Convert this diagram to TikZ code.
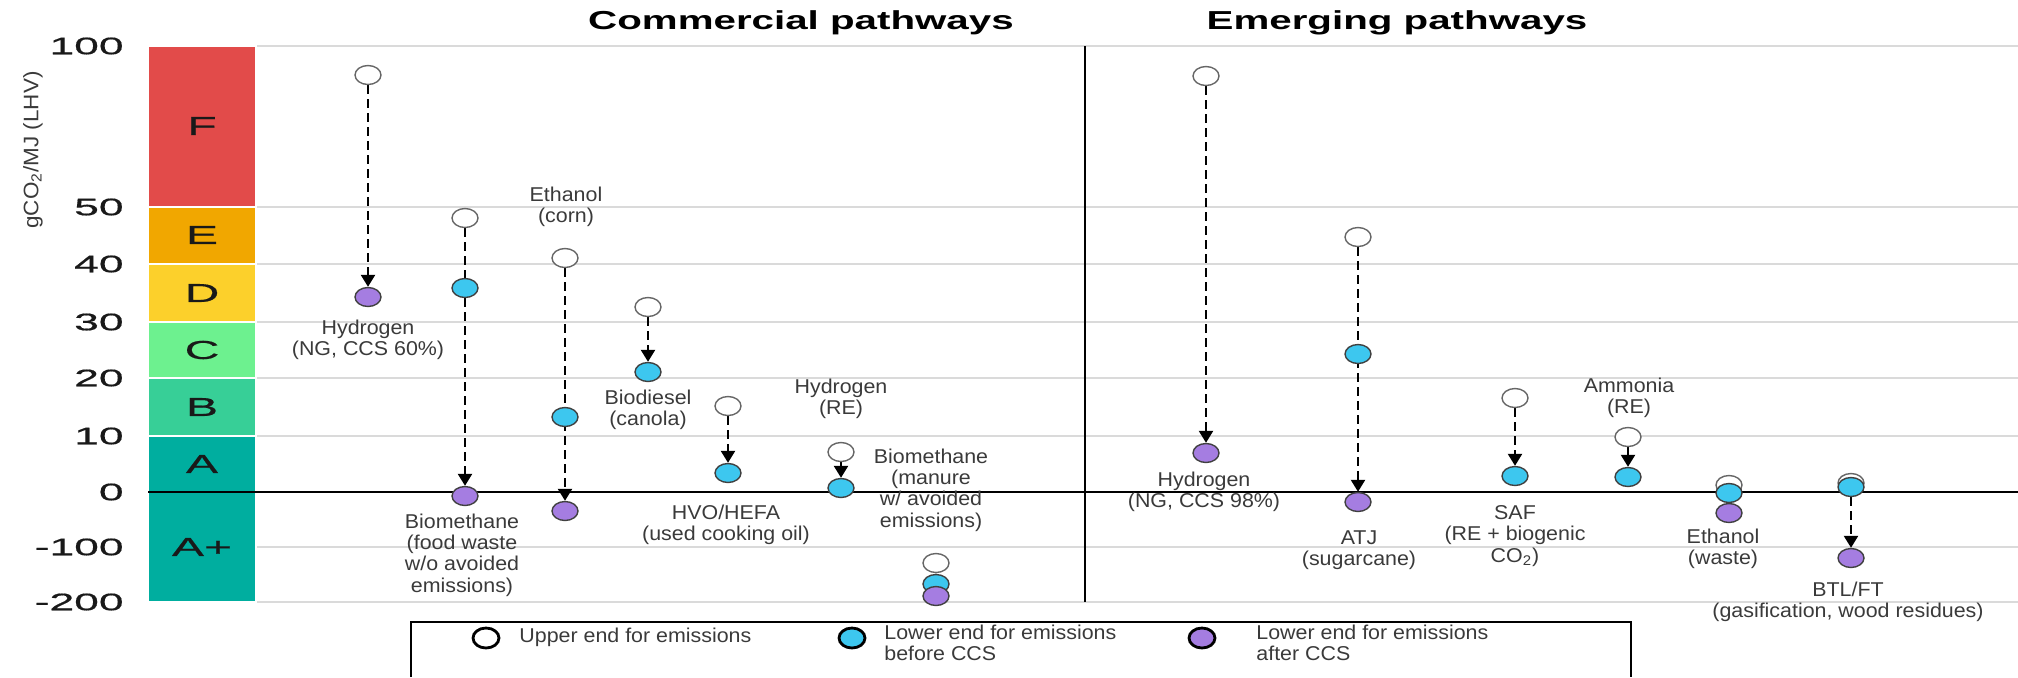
\documentclass[tikz,border=0pt]{standalone}
\usepackage{fontspec}
\setmainfont{Liberation Sans}
\newfontfamily\lblfont{Liberation Sans}[FakeStretch=1.07]
\newfontfamily\widefont{Liberation Sans}[FakeStretch=1.55]
\newfontfamily\tickfont{Liberation Sans}[FakeStretch=1.85,FakeBold=0.6]
\usetikzlibrary{shapes.geometric,arrows.meta}
\pgfdeclarelayer{grid}
\pgfdeclarelayer{links}
\pgfsetlayers{grid,links,main}

\definecolor{gradeF}{HTML}{E24B4A}
\definecolor{gradeE}{HTML}{F1A700}
\definecolor{gradeD}{HTML}{FCD02B}
\definecolor{gradeC}{HTML}{6DF18F}
\definecolor{gradeB}{HTML}{37CF97}
\definecolor{gradeA}{HTML}{00AE9F}
\definecolor{lowblue}{HTML}{3DC7EF}
\definecolor{lowpurple}{HTML}{A57DE1}
\definecolor{gridgray}{HTML}{DADADA}
\definecolor{txtgray}{HTML}{3A3A3A}

\begin{document}
\begin{tikzpicture}[x=0.5pt,y=-0.5pt,
  upend/.style={ellipse,draw=black!60,fill=white,line width=0.7pt,minimum width=13pt,minimum height=9.5pt,inner sep=0pt},
  precss/.style={upend,draw=black!75,fill=lowblue},
  postcss/.style={upend,draw=black!75,fill=lowpurple},
  keymark/.style={draw=black,line width=1.4pt,minimum width=13pt,minimum height=10pt},
  flow/.style={draw=black,line width=1.2pt,dash pattern=on 4.5pt off 2.5pt,-{Triangle[width=7pt,length=6pt]}},
  lbl/.style={font=\lblfont\fontsize{10}{10.7}\selectfont,align=center,text=txtgray,inner sep=0pt},
  ticklbl/.style={font=\tickfont\fontsize{12}{14}\selectfont,anchor=east,text=black!90,inner sep=0pt},
  gradelbl/.style={font=\tickfont\fontsize{13}{15}\selectfont,text=black!90,inner sep=0pt},
  title/.style={font=\widefont\bfseries\fontsize{13}{15}\selectfont,inner sep=0pt},
  gridln/.style={gridgray,line width=0.8pt}]

\useasboundingbox (0,0) rectangle (2018,677);

\begin{pgfonlayer}{grid}
  \foreach \yy in {46,207,264,322,378,436,547,602}
    \draw[gridln] (256,\yy) -- (2018,\yy);
  \foreach \ya/\yb/\col in {46/207/gradeF,207/264/gradeE,264/322/gradeD,322/378/gradeC,378/436/gradeB,436/602/gradeA}
    \filldraw[fill=\col,draw=white,line width=0.8pt] (148,\ya) rectangle (256,\yb);
  \draw[line width=1pt] (148,492) -- (2018,492);
  \draw[line width=1pt] (1085,46) -- (1085,602);
\end{pgfonlayer}

% axis
\foreach \yy/\val in {46/100,207/50,264/40,322/30,378/20,436/10,492/0,547/-100,602/-200}
  \node[ticklbl] (tick\val) at (124,\yy) {\val};
\foreach \yy/\g in {126/F,235/E,293/D,350/C,407/B,464/A,547/A+}
  \node[gradelbl] (grade\g) at (202,\yy) {\g};
\node[lbl,rotate=90,font=\lblfont\fontsize{10.5}{12}\selectfont] (ylab) at (33,150) {gCO\textsubscript{2}/MJ (LHV)};

\node[title] (comtitle) at (801,23) {Commercial pathways};
\node[title] (emtitle) at (1397,23) {Emerging pathways};

% commercial pathways
\node[upend] (h60-up) at (368,75) {};
\node[postcss] (h60-ccs) at (368,297) {};
\node[lbl] (h60-lbl) at (368,340) {Hydrogen\\(NG, CCS 60\%)};

\node[upend] (bmf-up) at (465,218) {};
\node[precss] (bmf-low) at (465,288) {};
\node[postcss] (bmf-ccs) at (465,496) {};
\node[lbl] (bmf-lbl) at (462,555) {Biomethane\\(food waste\\w/o avoided\\emissions)};

\node[upend] (etc-up) at (565,258) {};
\node[precss] (etc-low) at (565,417) {};
\node[postcss] (etc-ccs) at (565,511) {};
\node[lbl] (etc-lbl) at (566,207) {Ethanol\\(corn)};

\node[upend] (bds-up) at (648,307) {};
\node[precss] (bds-low) at (648,372) {};
\node[lbl] (bds-lbl) at (648,410) {Biodiesel\\(canola)};

\node[upend] (hvo-up) at (728,406) {};
\node[precss] (hvo-low) at (728,473) {};
\node[lbl] (hvo-lbl) at (726,525) {HVO/HEFA\\(used cooking oil)};

\node[upend] (hre-up) at (841,452) {};
\node[precss] (hre-low) at (841,488) {};
\node[lbl] (hre-lbl) at (841,399) {Hydrogen\\(RE)};

\node[upend] (bmm-up) at (936,563) {};
\node[precss] (bmm-low) at (936,584) {};
\node[postcss] (bmm-ccs) at (936,596) {};
\node[lbl] (bmm-lbl) at (931,490) {Biomethane\\(manure\\w/ avoided\\emissions)};

% emerging pathways
\node[upend] (h98-up) at (1206,76) {};
\node[postcss] (h98-ccs) at (1206,453) {};
\node[lbl] (h98-lbl) at (1204,492) {Hydrogen\\(NG, CCS 98\%)};

\node[upend] (atj-up) at (1358,237) {};
\node[precss] (atj-low) at (1358,354) {};
\node[postcss] (atj-ccs) at (1358,502) {};
\node[lbl] (atj-lbl) at (1359,550) {ATJ\\(sugarcane)};

\node[upend] (saf-up) at (1515,398) {};
\node[precss] (saf-low) at (1515,476) {};
\node[lbl] (saf-lbl) at (1515,536) {SAF\\(RE + biogenic\\CO\textsubscript{2})};

\node[upend] (amm-up) at (1628,437) {};
\node[precss] (amm-low) at (1628,477) {};
\node[lbl] (amm-lbl) at (1629,398) {Ammonia\\(RE)};

\node[upend] (etw-up) at (1729,485) {};
\node[precss] (etw-low) at (1729,493) {};
\node[postcss] (etw-ccs) at (1729,513) {};
\node[lbl] (etw-lbl) at (1723,549) {Ethanol\\(waste)};

\node[upend] (btl-up) at (1851,483) {};
\node[precss] (btl-low) at (1851,487) {};
\node[postcss] (btl-ccs) at (1851,558) {};
\node[lbl] (btl-lbl) at (1848,602) {BTL/FT\\(gasification, wood residues)};

\begin{pgfonlayer}{links}
  \draw[flow] (h60-up) -- (h60-ccs);
  \draw[flow] (bmf-up) -- (bmf-ccs);
  \draw[flow] (etc-up) -- (etc-ccs);
  \draw[flow] (bds-up) -- (bds-low);
  \draw[flow] (hvo-up) -- (hvo-low);
  \draw[flow] (hre-up) -- (hre-low);
  \draw[flow] (bmm-up) -- (bmm-low);
  \draw[flow] (h98-up) -- (h98-ccs);
  \draw[flow] (atj-up) -- (atj-ccs);
  \draw[flow] (saf-up) -- (saf-low);
  \draw[flow] (amm-up) -- (amm-low);
  \draw[flow] (etw-up) -- (etw-ccs);
  \draw[flow] (btl-low) -- (btl-ccs);
\end{pgfonlayer}

% legend
\draw[line width=1pt] (411,677) |- (1631,622) -- (1631,677);
\node[upend,keymark] (key-up) at (486,638) {};
\node[lbl,anchor=west,align=left] (key-up-txt) at (519,637) {Upper end for emissions};
\node[precss,keymark] (key-low) at (852,638) {};
\node[lbl,anchor=west,align=left] (key-low-txt) at (884,643) {Lower end for emissions\\before CCS};
\node[postcss,keymark] (key-ccs) at (1202,638) {};
\node[lbl,anchor=west,align=left] (key-ccs-txt) at (1256,643) {Lower end for emissions\\after CCS};
\end{tikzpicture}
\end{document}
